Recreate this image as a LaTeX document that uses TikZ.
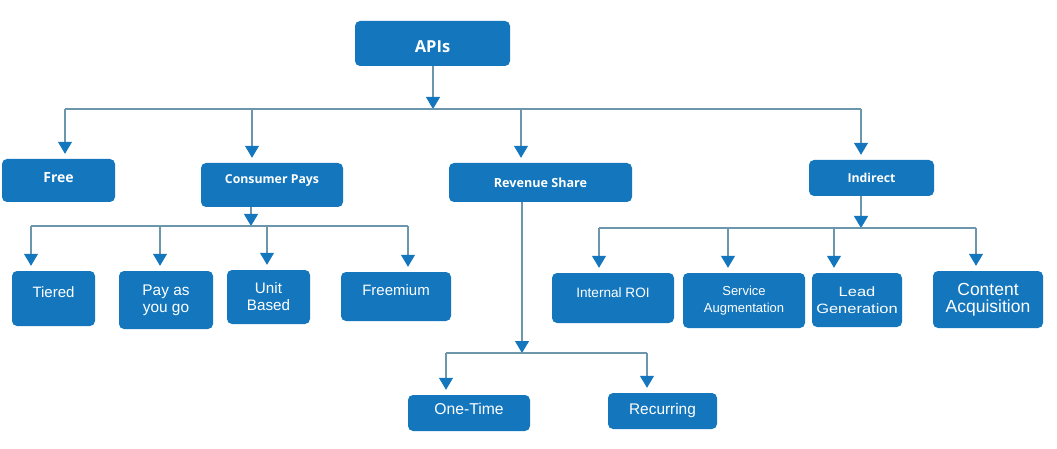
\documentclass[tikz,border=0pt]{standalone}
\usepackage{fontspec}
\setmainfont{Liberation Sans}
\newfontfamily\headfont{Open Sans}
\newfontfamily\widefont{Liberation Sans}[FakeStretch=1.22]
\usetikzlibrary{arrows.meta}
\definecolor{apiblue}{RGB}{20,119,190}
\definecolor{linkblue}{RGB}{108,150,172}

\begin{document}
\begin{tikzpicture}[x=1pt, y=-1pt,
	box/.style 2 args = {fill=apiblue, rounded corners=5pt, text=white, align=center,
	                     inner sep=0pt, minimum width=#1, minimum height=#2},
	hd/.style   = {font=\headfont\bfseries\fontsize{#1}{17}\selectfont},
	ar/.style   = {font=\fontsize{#1}{17}\selectfont},
	wide/.style = {font=\widefont\fontsize{#1}{17}\selectfont},
	raise/.style = {text depth=#1},
	link/.style = {draw=linkblue, line width=1.1pt},
	arr/.style  = {link, -{Triangle[width=14pt, length=12pt, color=apiblue]}},
	drop/.style = {arr, shorten >=5pt}
	]
\useasboundingbox (0,0) rectangle (1057,449);
% level 0 and 1
\node (apis)     [box={155}{45}, hd=16.5, text height=17.8pt] at (432.5,43.5) {APIs};
\node (free)     [box={113}{43}, hd=14, raise=6pt]  at (58.5,180.5) {Free};
\node (consumer) [box={142}{44}, hd=12.3, raise=12pt] at (272,185) {Consumer Pays};
\node (revenue)  [box={183}{39}, hd=12.6] at (540.5,182.5) {Revenue Share};
\node (indirect) [box={125}{36}, hd=12.3] at (871.5,178) {Indirect};
% consumer pays
\node (tiered)   [box={83}{55}, ar=15, raise=12pt]  at (53.5,298.5) {Tiered};
\node (payg)     [box={94}{58}, ar=15.4] at (166,300) {Pay as\\you go};
\node (unit)     [box={83}{54}, ar=15.2] at (268.5,297) {Unit\\Based};
\node (freemium) [box={110}{49}, ar=15, raise=12pt] at (396,296.5) {Freemium};
% revenue share
\node (onetime)   [box={122}{36}, ar=15.7, raise=8pt] at (469,413) {One-Time};
\node (recurring) [box={109}{36}, ar=15.4, raise=5pt] at (662.5,411) {Recurring};
% indirect
\node (internal) [box={122}{50}, ar=13.6, raise=10pt] at (613,298) {Internal ROI};
\node (service)  [box={122}{55}, ar=13] at (744,300.5) {Service\\Augmentation};
\node (lead)     [box={90}{54}, wide=13.5] at (857,300) {Lead\\Generation};
\node (content)  [box={110}{57}, ar=17.5] at (988,299.5) {Content\\Acquisition};
%
\coordinate (j1) at (433,109);
\coordinate (j2) at (251,226);
\coordinate (j3) at (522,353);
\coordinate (j4) at (861,228);
%
\draw[arr] (apis.south -| j1) -- (j1);
\draw[link] ([xshift=6.5]free.north |- j1) -- ([xshift=-10.5]indirect.north |- j1);
\foreach \n/\dx in {free/6.5, consumer/-20, revenue/-19.5, indirect/-10.5}
	\draw[drop] ([xshift=\dx]\n.north |- j1) -- ([xshift=\dx]\n.north);
%
\draw[arr] (consumer.south -| j2) -- (j2);
\draw[link] ([xshift=-22.5]tiered.north |- j2) -- ([xshift=12]freemium.north |- j2);
\foreach \n/\dx in {tiered/-22.5, payg/-6, unit/-1.5, freemium/12}
	\draw[drop] ([xshift=\dx]\n.north |- j2) -- ([xshift=\dx]\n.north);
%
\draw[arr] (revenue.south -| j3) -- (j3);
\draw[link] ([xshift=-23]onetime.north |- j3) -- ([xshift=-15.5]recurring.north |- j3);
\foreach \n/\dx in {onetime/-23, recurring/-15.5}
	\draw[drop] ([xshift=\dx]\n.north |- j3) -- ([xshift=\dx]\n.north);
%
\draw[arr] (indirect.south -| j4) -- (j4);
\draw[link] ([xshift=-14]internal.north |- j4) -- ([xshift=-12]content.north |- j4);
\foreach \n/\dx in {internal/-14, service/-16, lead/-23, content/-12}
	\draw[drop] ([xshift=\dx]\n.north |- j4) -- ([xshift=\dx]\n.north);
\end{tikzpicture}
\end{document}
